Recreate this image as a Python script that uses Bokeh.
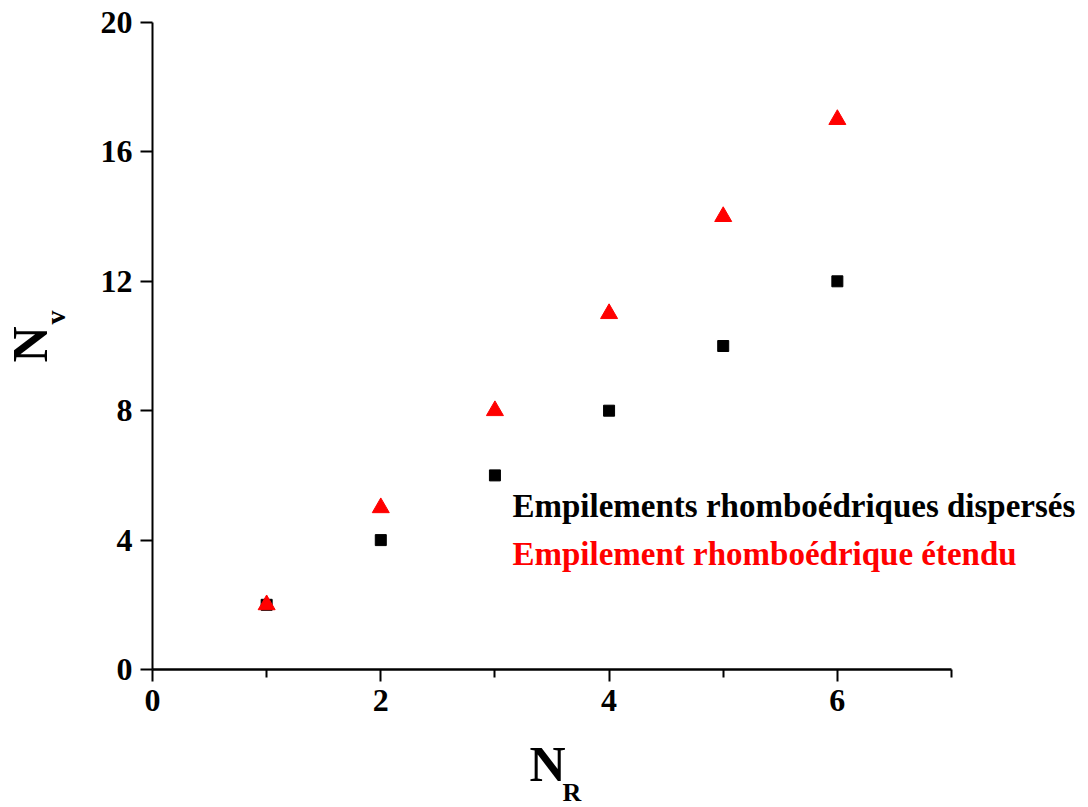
from bokeh.plotting import figure
from bokeh.models import Range1d, FixedTicker, Label, ColumnDataSource, LinearAxis
from bokeh.embed import file_html
from bokeh.resources import INLINE

# Data
n_r = [1, 2, 3, 4, 5, 6]
nv_disperses = [2, 4, 6, 8, 10, 12]
nv_etendu = [2, 5, 8, 11, 14, 17]
x_major = [0, 2, 4, 6]
x_minor = [1, 3, 5, 7]
y_major = [0, 4, 8, 12, 16, 20]
label_disperses = "Empilements rhomboédriques dispersés"
label_etendu = "Empilement rhomboédrique étendu"

FONT = "Liberation Serif"

# Canvas geometry: axes box from x=152..951 px (0..7) and y=22..669 px (20..0)
W, H = 1080, 807
X0, X1, Y0, Y1 = 152, 951, 669, 22
XMIN, XMAX, YMIN, YMAX = 0, 7, 0, 20
sx = (X1 - X0) / (XMAX - XMIN)
sy = (Y0 - Y1) / (YMAX - YMIN)

p = figure(width=W, height=H, output_backend="svg", toolbar_location=None,
           x_range=Range1d(XMIN - X0 / sx, XMIN + (W - X0) / sx),
           y_range=Range1d(YMIN - (H - Y0) / sy, YMIN + Y0 / sy),
           x_axis_location=None, y_axis_location=None, min_border=0)
p.outline_line_color = None
p.xgrid.visible = False
p.ygrid.visible = False

xaxis = LinearAxis(fixed_location=0, bounds=(XMIN, XMAX),
                   ticker=FixedTicker(ticks=x_major, minor_ticks=x_minor))
yaxis = LinearAxis(fixed_location=0, bounds=(YMIN, YMAX),
                   ticker=FixedTicker(ticks=y_major, minor_ticks=[]))
for ax in (xaxis, yaxis):
    ax.axis_line_color = "black"
    ax.major_tick_line_color = "black"
    ax.minor_tick_line_color = "black"
    ax.major_tick_out = 12
    ax.major_tick_in = 0
    ax.minor_tick_out = 8
    ax.minor_tick_in = 0
    ax.major_label_text_font = FONT
    ax.major_label_text_font_style = "bold"
    ax.major_label_text_font_size = "32px"
    ax.major_label_text_color = "black"
    ax.major_label_standoff = 8
xaxis.axis_line_width = 2.5
xaxis.major_tick_line_width = 2
xaxis.minor_tick_line_width = 2
yaxis.axis_line_width = 2
yaxis.major_tick_line_width = 2
yaxis.minor_tick_out = 0
p.add_layout(xaxis, "below")
p.add_layout(yaxis, "left")

src = ColumnDataSource(dict(x=n_r, a=nv_disperses, b=nv_etendu))
p.scatter("x", "a", source=src, marker="square", size=11, fill_color="black", line_color="black")
p.scatter("x", "b", source=src, marker="triangle", size=17, fill_color="red", line_color="red")


def lab(x, y, text, size, color="black", angle=0.0):
    return Label(x=x, y=y, x_units="canvas", y_units="canvas", text=text, angle=angle,
                 text_font=FONT, text_font_style="bold", text_font_size=size,
                 text_color=color, text_align="left", text_baseline="alphabetic", level="overlay")


p.add_layout(lab(512, 505, label_disperses, "33px"))
p.add_layout(lab(512, 553, label_etendu, "33px", "red"))
p.add_layout(lab(529, 763, "N", "50px"))
p.add_layout(lab(562, 792, "R", "26px"))
p.add_layout(lab(29, 362, "N", "50px", angle=1.5708))
p.add_layout(lab(55, 324, "v", "28px", angle=1.5708))

open("out.html", "w").write(file_html(p, INLINE))
